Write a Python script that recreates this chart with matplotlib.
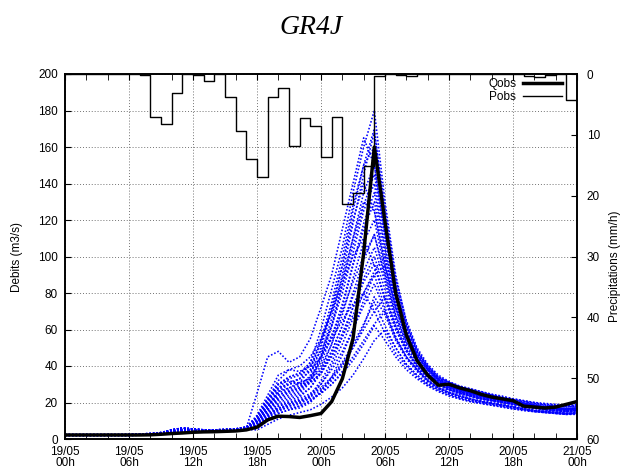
import numpy as np
import matplotlib
matplotlib.use("Agg")
import matplotlib.pyplot as plt
from matplotlib.ticker import MultipleLocator

plt.rcParams['font.family'] = ['Liberation Sans', 'DejaVu Sans']

# hours since 19/05 00h
hours = list(range(49))

tick_hours = [0, 6, 12, 18, 24, 30, 36, 42, 48]
tick_labels = ['19/05\n00h', '19/05\n06h', '19/05\n12h', '19/05\n18h', '20/05\n00h',
               '20/05\n06h', '20/05\n12h', '20/05\n18h', '21/05\n00h']

qobs = [2.2, 2.2, 2.2, 2.2, 2.2, 2.2, 2.2, 2.2, 2.3,
        2.6, 3.0, 3.3, 3.7, 3.9, 4.0, 4.2, 4.4, 5.0,
        6.5, 10.5, 12.5, 12.3, 11.8, 12.8, 14.0,
        20.5, 33, 55, 102, 160,
        119, 80, 57, 43, 35, 29.5, 30,
        28, 26.5, 24.5, 23, 22, 21, 18, 17.5, 17, 17.5, 19, 20.5]

# rain per hour, interval starting at the given hour
pobs = [0, 0, 0, 0, 0, 0, 0, 0.2, 7.1, 8.2, 3.2, 0, 0.2, 1.15, 0, 3.7,
        9.4, 14.0, 16.9, 3.7, 2.35, 11.8, 7.2, 8.5, 13.6, 7.1, 21.4, 19.5,
        15.2, 0.4, 0, 0.2, 0.3, 0, 0, 0, 0, 0, 0, 0, 0, 0, 0, 0.4, 0.5,
        0.2, 0, 4.2, 4.2]

# ensemble members (m3/s)
early_a = [2.3, 2.3, 2.3, 2.3, 2.3, 2.3, 2.3, 2.4, 2.6, 3.5, 5.0, 6.0, 5.5, 5.0, 5.0, 5.2, 5.5, 6.5]
early_b = [2.2, 2.2, 2.2, 2.2, 2.2, 2.2, 2.2, 2.3, 2.5, 3.0, 4.0, 5.0, 4.8, 4.6, 4.6, 4.8, 5.0, 5.5]
early_c = [2.0, 2.0, 2.0, 2.0, 2.0, 2.0, 2.0, 2.1, 2.3, 2.8, 3.5, 4.2, 4.2, 4.2, 4.3, 4.5, 4.8, 5.2]
early_d = [2.4, 2.4, 2.4, 2.4, 2.4, 2.4, 2.5, 2.7, 3.0, 3.2, 4.5, 5.5, 5.2, 4.8, 4.8, 5.0, 5.3, 6.0]

m01 = early_a + [12, 22, 28, 30, 33, 42, 60, 82, 105, 135, 160, 180, 130, 90, 64, 49, 39, 33, 31,
                 29, 27.5, 26, 24.5, 23.5, 22, 21, 20, 19.5, 19, 18.5, 19]
m02 = early_d + [25, 45, 48, 42, 45, 55, 72, 90, 115, 140, 165, 150, 112, 82, 62, 48, 40, 34, 31,
                 28.5, 27, 25.5, 24, 22.5, 21.5, 20.5, 19.5, 19, 18.5, 18, 18.5]
m03 = early_b + [10, 18, 24, 26, 28, 35, 50, 70, 95, 125, 150, 170, 122, 86, 63, 49, 40, 34, 31,
                 28.5, 27, 25, 24, 22.5, 21, 20, 19, 18.5, 18, 17.5, 18]
m04 = early_c + [9, 16, 22, 24, 26, 32, 45, 62, 85, 110, 135, 150, 112, 80, 60, 47, 39, 33, 30,
                 27.5, 26, 24.5, 23, 22, 20.5, 19.5, 18.5, 17.5, 17, 16.5, 17]
m05 = early_a + [11, 20, 30, 34, 36, 40, 52, 72, 95, 120, 140, 125, 95, 72, 56, 45, 38, 32, 29,
                 27, 25, 23.5, 22.5, 21.5, 20, 19, 18, 17, 16.5, 16, 16.5]
m06 = early_b + [8, 14, 19, 21, 23, 28, 38, 52, 72, 95, 115, 130, 100, 74, 57, 45, 38, 32.5, 29,
                 26.5, 25, 23.5, 22.5, 21, 20, 19, 18, 17, 16.5, 16, 16.5]
m07 = early_d + [9, 16, 24, 27, 29, 32, 40, 52, 68, 88, 108, 120, 92, 68, 53, 43, 36, 31, 28,
                 25.5, 24, 22.5, 21.5, 20.5, 19.5, 18.5, 17.5, 16.5, 16, 15.5, 16]
m08 = early_a + [12, 22, 32, 38, 40, 45, 55, 70, 85, 100, 110, 95, 76, 60, 48, 40, 34, 30, 27,
                 25, 23.5, 22, 21, 20, 19, 18, 17, 16, 15.5, 15, 15.5]
m09 = early_c + [7, 12, 17, 19, 20, 24, 32, 42, 56, 72, 88, 100, 82, 62, 49, 40, 34, 30, 27,
                 25, 23.5, 22, 21, 20, 19, 18, 17, 16, 15.5, 15, 15.5]
m10 = early_c + [6, 10, 14, 16, 17, 20, 26, 34, 46, 60, 76, 90, 95, 72, 55, 44, 36, 31, 28,
                 25.5, 24, 22.5, 21.5, 20.5, 19.5, 18.5, 17.5, 16.5, 16, 15.5, 16]
m11 = early_d + [8, 15, 22, 26, 28, 31, 36, 45, 56, 68, 80, 90, 72, 56, 45, 38, 32, 28, 25.5,
                 23.5, 22, 21, 20, 19, 18, 17, 16, 15, 14.5, 14, 14.5]
m12 = early_b + [7, 12, 18, 20, 22, 25, 30, 38, 48, 60, 73, 85, 70, 55, 45, 38, 32, 28, 25.5,
                 23.5, 22, 20.5, 19.5, 18.5, 17.5, 16.5, 15.5, 15, 14.5, 14, 14.5]
m13 = early_c + [6, 11, 16, 19, 21, 24, 28, 34, 42, 52, 63, 75, 62, 50, 41, 35, 30, 27, 24.5,
                 22.5, 21, 20, 19, 18, 17, 16, 15, 14.5, 14, 13.5, 14]
m14 = early_b + [6, 10, 14, 16, 18, 21, 25, 30, 37, 45, 54, 63, 70, 56, 45, 38, 32, 28, 25.5,
                 23.5, 22, 20.5, 19.5, 18.5, 17.5, 16.5, 15.5, 15, 14.5, 14, 14.5]
m15 = early_c + [6, 10, 15, 18, 20, 22, 25, 30, 36, 43, 52, 62, 54, 45, 38, 33, 29, 26, 23.5,
                 22, 20.5, 19.5, 18.5, 17.5, 16.5, 15.5, 15, 14.5, 14, 13.5, 13.5]
m16 = early_c + [5, 8, 11, 13, 14.5, 16, 19, 23, 28, 35, 44, 54, 60, 50, 41, 35, 30.5, 27.5, 25,
                 23, 21.5, 20.5, 19.5, 18.5, 17.5, 16.5, 15.5, 15, 14.5, 14, 14]
m17 = early_a + [10, 20, 28, 33, 35, 38, 45, 55, 65, 74, 80, 70, 58, 47, 40, 34, 29.5, 26.5, 24,
                 22, 20.5, 19.5, 18.5, 17.5, 16.5, 16, 15, 14.5, 14, 13.5, 14]
m18 = early_b + [8, 15, 21, 23, 25, 31, 44, 62, 84, 106, 128, 145, 110, 80, 60, 47, 39, 33, 30,
                 27.5, 26, 24.5, 23, 21.5, 20.5, 19.5, 18.5, 17.5, 17, 16.5, 17]
m19 = early_d + [10, 19, 26, 28, 31, 38, 54, 75, 100, 128, 150, 160, 118, 84, 62, 48, 40, 34, 31,
                 28.5, 27, 25.5, 24, 22.5, 21.5, 20.5, 19.5, 18.5, 18, 17.5, 18]
m20 = early_c + [8, 14, 20, 22, 24, 28, 36, 48, 62, 78, 92, 105, 86, 65, 51, 42, 35, 31, 28,
                 26, 24.5, 23, 22, 20.5, 19.5, 18.5, 17.5, 16.5, 16, 15.5, 16]
m21 = early_a + [10, 18, 25, 28, 30, 34, 42, 56, 74, 96, 118, 135, 104, 76, 58, 46, 38, 32.5, 29.5,
                 27, 25.5, 24, 22.5, 21.5, 20.5, 19.5, 18.5, 17.5, 17, 16.5, 17]
m22 = early_b + [9, 17, 26, 30, 31, 33, 38, 48, 62, 80, 98, 112, 88, 66, 51, 41, 35, 30.5, 27.5,
                 25.5, 24, 22.5, 21.5, 20.5, 19.5, 18.5, 17.5, 16.5, 16, 15.5, 16]
m23 = early_d + [11, 21, 30, 32, 30, 31, 36, 46, 58, 72, 86, 96, 78, 60, 48, 39, 33, 29, 26.5,
                 24.5, 23, 22, 21, 20, 19, 18, 17, 16, 15.5, 15, 15.5]
m24 = early_c + [7, 13, 18, 20, 21, 23, 27, 33, 41, 50, 60, 70, 78, 62, 49, 40, 34, 30, 27,
                 25, 23.5, 22, 21, 20, 19, 18, 17, 16, 15.5, 15, 15.5]
m25 = early_a + [13, 24, 35, 38, 37, 40, 48, 62, 80, 102, 125, 140, 105, 78, 59, 46, 38, 33, 29.5,
                 27, 25.5, 24, 22.5, 21.5, 20.5, 19.5, 18.5, 17.5, 17, 16.5, 17]
m26 = early_b + [9, 16, 23, 25, 27, 33, 46, 66, 90, 118, 145, 168, 126, 88, 65, 50, 41, 35, 31.5,
                 29, 27.5, 26, 24.5, 23, 22, 21, 20, 19, 18.5, 18, 18.5]
m27 = early_c + [8, 13, 17, 18, 19, 23, 30, 40, 52, 66, 80, 92, 100, 76, 58, 46, 38, 32.5, 29,
                 26.5, 25, 23.5, 22, 21, 20, 19, 18, 17, 16.5, 16, 16.5]
m28 = early_d + [12, 22, 30, 34, 36, 42, 54, 70, 88, 110, 130, 125, 96, 72, 55, 44, 37, 32, 29,
                 26.5, 25, 23.5, 22.5, 21.5, 20.5, 19.5, 18.5, 17.5, 17, 16.5, 17]
m29 = early_b + [7, 12, 16, 17, 18, 21, 26, 32, 40, 50, 62, 78, 68, 54, 44, 37, 31.5, 28, 25,
                 23, 21.5, 20.5, 19.5, 18.5, 17.5, 16.5, 15.5, 15, 14.5, 14, 14]
m30 = early_a + [9, 18, 27, 31, 33, 37, 45, 57, 70, 86, 100, 112, 90, 68, 53, 43, 36, 31.5, 28.5,
                 26, 24.5, 23, 22, 21, 20, 19, 18, 17, 16.5, 16, 16.5]

members = [m01, m02, m03, m04, m05, m06, m07, m08, m09, m10,
           m11, m12, m13, m14, m15, m16, m17, m18, m19, m20,
           m21, m22, m23, m24, m25, m26, m27, m28, m29, m30]

fig = plt.figure(figsize=(6.22, 4.76), dpi=100)
ax = fig.add_axes([65 / 622, 1 - 439 / 476, 512 / 622, 365 / 476])
ax2 = ax.twinx()

for m in members:
    ax.plot(hours, m, color='#0000ff', lw=1.15, ls=(0, (1, 1.2)), zorder=2)
ax.plot(hours, qobs, color='black', lw=2.5, zorder=3)

ax2.plot(hours, pobs, color='black', lw=1.0, drawstyle='steps-post')

ax.set_xlim(0, 48)
ax.set_ylim(0, 200)
ax2.set_ylim(60, 0)

ax.set_xticks(tick_hours)
ax.set_xticklabels(tick_labels, fontsize=8.5, linespacing=0.95)
ax.xaxis.set_minor_locator(MultipleLocator(2))
ax.yaxis.set_major_locator(MultipleLocator(20))
ax.tick_params(axis='y', labelsize=8.5, direction='in', length=4, pad=5)
ax.tick_params(axis='x', which='both', direction='in', top=True, length=4, pad=5)
ax2.yaxis.set_major_locator(MultipleLocator(10))
ax2.tick_params(axis='y', labelsize=8.5, direction='in', length=4, pad=7)

ax.grid(True, which='major', color='0.45', ls=(0, (1, 2)), lw=0.7)
for sp in list(ax.spines.values()) + list(ax2.spines.values()):
    sp.set_linewidth(1.2)

ax.set_ylabel('Debits (m3/s)', fontsize=8.5, labelpad=11)
fig.text(609 / 622, 0.44, 'Precipitations (mm/h)', rotation=90, fontsize=8.5,
         ha='left', va='center')

fig.text(0.5, 1 - 27 / 476, 'GR4J', family=['Liberation Serif', 'DejaVu Serif'],
         style='italic', fontsize=20, ha='center', va='center')

h1, = ax.plot([], [], color='black', lw=2.5, label='Qobs')
h2, = ax.plot([], [], color='black', lw=1.0, label='Pobs')
leg = ax2.legend([h1, h2], ['Qobs', 'Pobs'], loc='upper right', bbox_to_anchor=(0.971, 0.99),
                 frameon=False, markerfirst=False, fontsize=8.5, handlelength=3.3,
                 handletextpad=0.6, labelspacing=0.15, borderpad=0, borderaxespad=0)

fig.savefig('out.png', dpi=100)
